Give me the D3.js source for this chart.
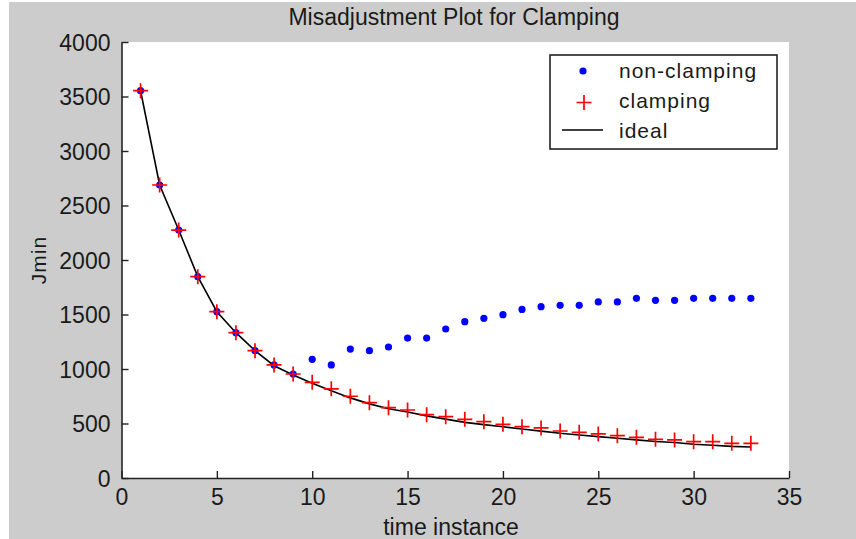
<!DOCTYPE html>
<html>
<head>
<meta charset="utf-8">
<script src="https://cdn.jsdelivr.net/npm/d3@7"></script>
<style>
    body { margin: 0; background: #ffffff; }
    .plain { font-family: "Liberation Sans", Arial, sans-serif; }
</style>
</head>
<body>
<div id="chart"></div>
<script>
// time instances 1..33
var timeInstance = [1, 2, 3, 4, 5, 6, 7, 8, 9, 10, 11, 12, 13, 14, 15, 16, 17,
    18, 19, 20, 21, 22, 23, 24, 25, 26, 27, 28, 29, 30, 31, 32, 33]

var nonClamping = [3553, 2688, 2275, 1847, 1526, 1333, 1168, 1037, 954, 1089, 1037,
    1183, 1168, 1202, 1284, 1284, 1367, 1434, 1465, 1498, 1547, 1572, 1584, 1584,
    1615, 1615, 1648, 1630, 1630, 1648, 1648, 1648, 1648]

var clamping = [3553, 2688, 2275, 1847, 1526, 1333, 1168, 1037, 954, 878, 818,
    750, 691, 645, 624, 581, 563, 538, 517, 492, 471, 459, 431, 419, 404, 388,
    373, 355, 349, 333, 333, 318, 318]

var ideal = [3553, 2688, 2275, 1847, 1526, 1333, 1168, 1030, 945, 870, 800, 735,
    680, 635, 605, 570, 540, 510, 490, 470, 450, 430, 410, 395, 380, 365, 350,
    335, 325, 310, 300, 290, 285]

var xTicks = [0, 5, 10, 15, 20, 25, 30, 35]
var yTicks = [0, 500, 1000, 1500, 2000, 2500, 3000, 3500, 4000]
var legendLabels = ["non-clamping", "clamping", "ideal"]

var width = 856, height = 539
var margin = {top: 42, right: 67, bottom: 61, left: 121.5}

var svg = d3.select("#chart").append("svg")
    .attr("width", width).attr("height", height)

// figure background
svg.append("rect")
    .attr("x", 9).attr("y", 2)
    .attr("width", width - 9).attr("height", height - 2)
    .attr("fill", "#cccccc")

var xScale = d3.scaleLinear().domain([0, 35]).range([margin.left, width - margin.right])
var yScale = d3.scaleLinear().domain([0, 4000]).range([height - margin.bottom, margin.top])

// axes area
svg.append("rect")
    .attr("x", xScale(0)).attr("y", yScale(4000))
    .attr("width", xScale(35) - xScale(0))
    .attr("height", yScale(0) - yScale(4000))
    .attr("fill", "#ffffff")

var xAxis = d3.axisBottom(xScale).tickValues(xTicks).tickFormat(d3.format("d"))
    .tickSizeInner(-7).tickSizeOuter(0).tickPadding(11)
var yAxis = d3.axisLeft(yScale).tickValues(yTicks).tickFormat(d3.format("d"))
    .tickSizeInner(-7).tickSizeOuter(0).tickPadding(11)

var gx = svg.append("g")
    .attr("transform", "translate(0," + yScale(0) + ")")
    .call(xAxis)
var gy = svg.append("g")
    .attr("transform", "translate(" + xScale(0) + ",0)")
    .call(yAxis)

;[gx, gy].forEach(function (g) {
    g.select(".domain").attr("stroke", "#222222").attr("stroke-width", 1.6)
    g.selectAll(".tick line").attr("stroke", "#222222").attr("stroke-width", 1.4)
    g.selectAll(".tick text")
        .attr("class", "plain")
        .attr("fill", "#1a1a1a")
        .style("font-size", "23px")
})
gy.selectAll(".tick text").attr("dy", "0.36em")

// ideal line
var line = d3.line()
    .x(function (d, i) { return xScale(timeInstance[i]) })
    .y(function (d) { return yScale(d) })

svg.append("path")
    .datum(ideal)
    .attr("d", line)
    .attr("fill", "none")
    .attr("stroke", "#000000")
    .attr("stroke-width", 1.6)

// non-clamping dots
svg.append("g").selectAll("circle")
    .data(nonClamping)
    .enter().append("circle")
    .attr("cx", function (d, i) { return xScale(timeInstance[i]) })
    .attr("cy", function (d) { return yScale(d) })
    .attr("r", 3.6)
    .attr("fill", "#0000ff")

// clamping plus markers
function plusPath(cx, cy, s) {
    return "M" + (cx - s) + "," + cy + "H" + (cx + s) + "M" + cx + "," + (cy - s) + "V" + (cy + s)
}
svg.append("g").selectAll("path")
    .data(clamping)
    .enter().append("path")
    .attr("d", function (d, i) { return plusPath(xScale(timeInstance[i]), yScale(d), 7.5) })
    .attr("stroke", "#ff0000")
    .attr("stroke-width", 1.7)
    .attr("fill", "none")

// legend
var legend = svg.append("g")
legend.append("rect")
    .attr("x", 550).attr("y", 55)
    .attr("width", 227).attr("height", 94)
    .attr("fill", "#ffffff")
    .attr("stroke", "#222222")
    .attr("stroke-width", 1.6)

legend.append("circle").attr("cx", 583).attr("cy", 71).attr("r", 3.6).attr("fill", "#0000ff")
legend.append("path").attr("d", plusPath(584, 102.5, 7.5))
    .attr("stroke", "#ff0000").attr("stroke-width", 1.7)
legend.append("line")
    .attr("x1", 562).attr("x2", 603).attr("y1", 130).attr("y2", 130)
    .attr("stroke", "#000000").attr("stroke-width", 1.6)

legend.selectAll("text")
    .data(legendLabels)
    .enter().append("text")
    .attr("class", "plain")
    .attr("x", 619)
    .attr("y", function (d, i) { return 71 + i * 30 })
    .attr("dy", "0.35em")
    .style("font-size", "21px")
    .style("letter-spacing", "1px")
    .attr("fill", "#1a1a1a")
    .text(function (d) { return d })

// title and axis labels
svg.append("text")
    .attr("class", "plain")
    .attr("x", 454).attr("y", 25)
    .attr("text-anchor", "middle")
    .style("font-size", "23px")
    .attr("fill", "#1a1a1a")
    .text("Misadjustment Plot for Clamping")

svg.append("text")
    .attr("class", "plain")
    .attr("x", 451).attr("y", 535)
    .attr("text-anchor", "middle")
    .style("font-size", "23px")
    .attr("fill", "#1a1a1a")
    .text("time instance")

svg.append("text")
    .attr("class", "plain")
    .attr("transform", "translate(46,260) rotate(-90)")
    .attr("text-anchor", "middle")
    .style("font-size", "21px")
    .style("letter-spacing", "1px")
    .attr("fill", "#1a1a1a")
    .text("Jmin")
</script>
</body>
</html>
